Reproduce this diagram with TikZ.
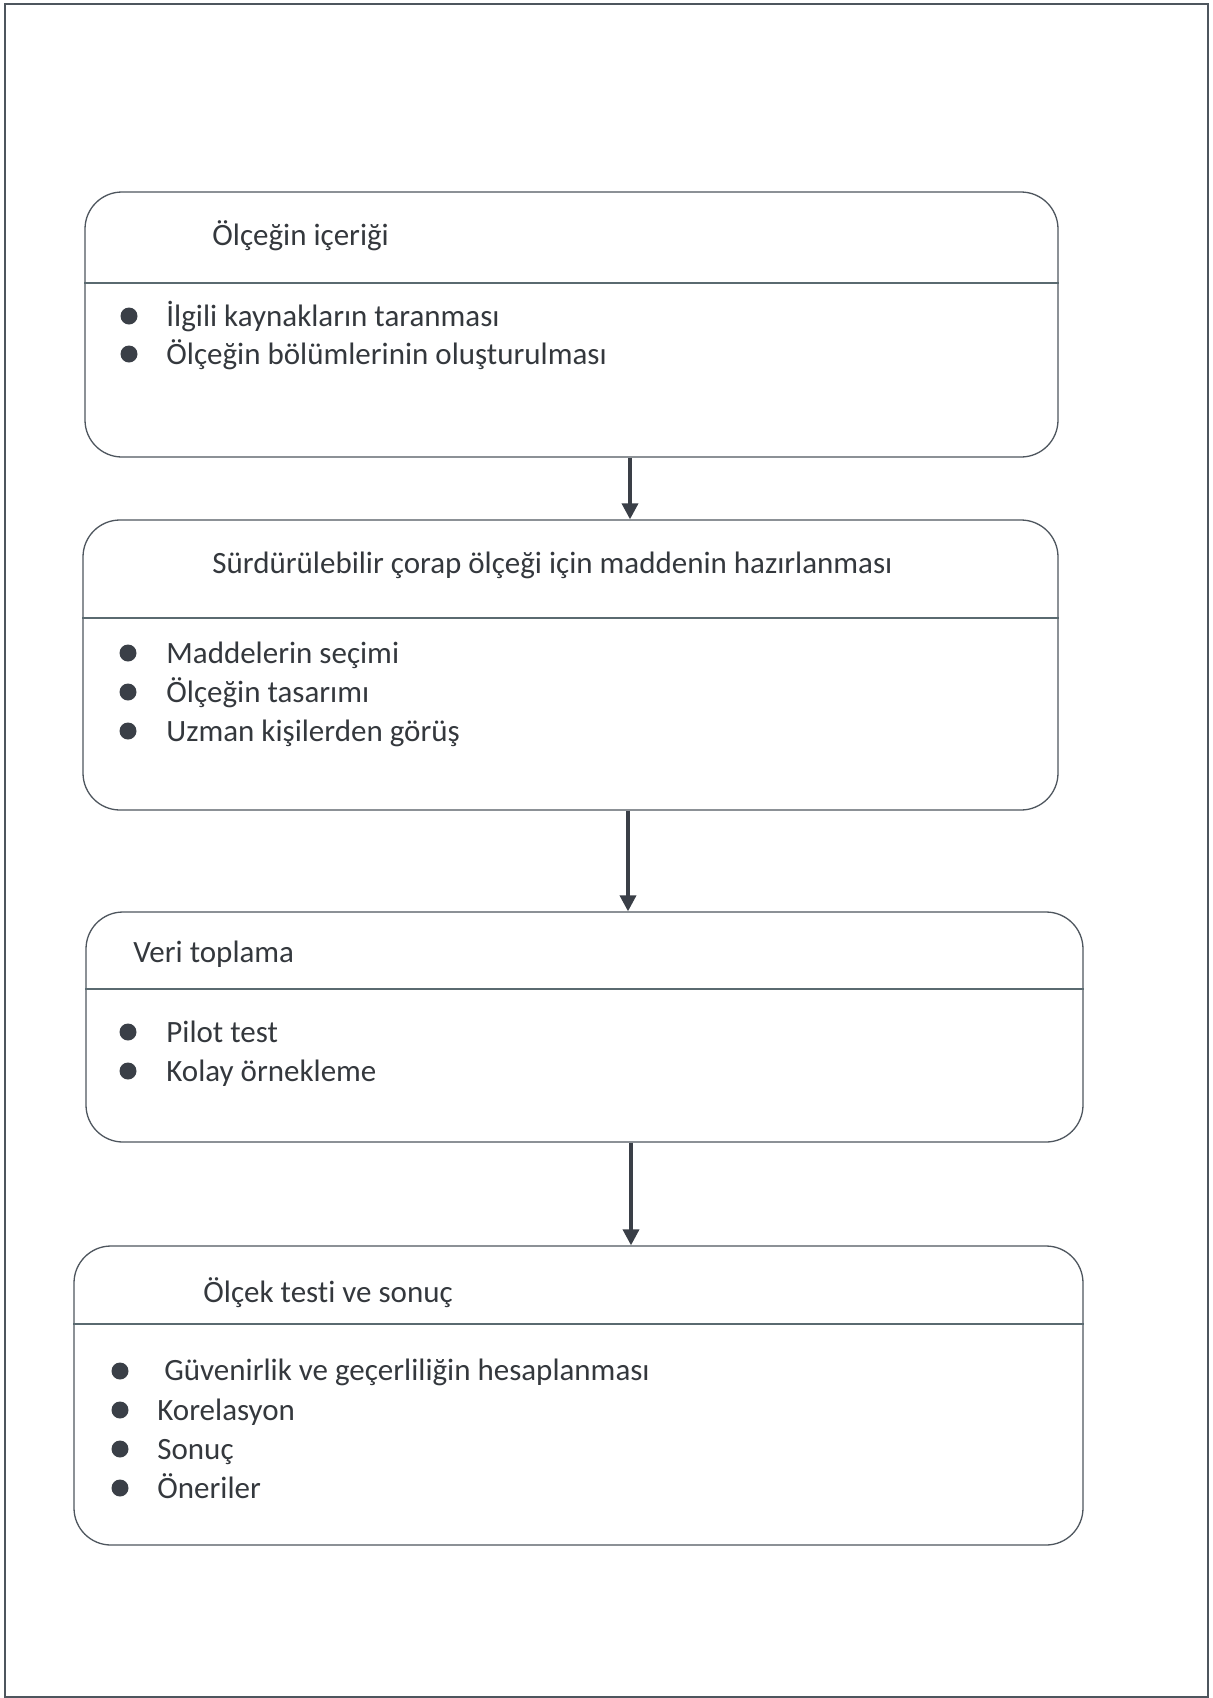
\documentclass[tikz,border=0pt]{standalone}
\usepackage{fontspec}
\setmainfont{Carlito}[Ligatures=NoCommon]
\usetikzlibrary{arrows.meta}
\definecolor{txt}{HTML}{34383D}
\definecolor{ln}{HTML}{4E565E}
\definecolor{dv}{HTML}{5A6A70}
\definecolor{blt}{HTML}{3A3F47}
\tikzset{
  boxst/.style={draw=ln, line width=0.65pt, rounded corners=18.5pt, inner sep=0pt},
  divst/.style={draw=dv, line width=0.65pt},
  titlest/.style={anchor=base west, inner sep=0pt, text=txt, font=\fontsize{15.5pt}{19pt}\selectfont},
  itemst/.style={anchor=base west, inner sep=0pt, text=txt, font=\fontsize{15.5pt}{19pt}\selectfont},
  bulletst/.style={circle, fill=blt, inner sep=0pt, minimum size=8.5pt},
  arrst/.style={draw=blt, line width=1.8pt, -{Triangle[width=8pt,length=8pt]}},
  framest/.style={draw=ln, line width=1pt}
}
\begin{document}
\begin{tikzpicture}[x=0.5pt, y=-0.5pt]
\useasboundingbox (0,0) rectangle (1213,1698);
\draw[framest] (4.5,3.5) rectangle (1208,1697);

% boxes
\node[boxst, minimum width=486.5pt, minimum height=132.5pt] (b1) at (571.5,324.5) {};
\node[boxst, minimum width=487.5pt, minimum height=145pt] (b2) at (570.5,665) {};
\node[boxst, minimum width=498.5pt, minimum height=115pt] (b3) at (584.5,1027) {};
\node[boxst, minimum width=504.5pt, minimum height=149.5pt] (b4) at (578.5,1395.5) {};

% dividers
\draw[divst] (b1.west |- 0,283) -- (b1.east |- 0,283);
\draw[divst] (b2.west |- 0,618) -- (b2.east |- 0,618);
\draw[divst] (b3.west |- 0,989) -- (b3.east |- 0,989);
\draw[divst] (b4.west |- 0,1324) -- (b4.east |- 0,1324);

% box 1
\node[titlest] (t1) at (212,245) {Ölçeğin içeriği};
\node[bulletst] (p11) at (129,316) {};
\node[itemst] (i11) at (166,326) {İlgili kaynakların taranması};
\node[bulletst] (p12) at (129,354) {};
\node[itemst] (i12) at (166,364) {Ölçeğin bölümlerinin oluşturulması};

% box 2
\node[titlest] (t2) at (212,573) {Sürdürülebilir çorap ölçeği için maddenin hazırlanması};
\node[bulletst] (p21) at (128,653) {};
\node[itemst] (i21) at (166,663) {Maddelerin seçimi};
\node[bulletst] (p22) at (128,692) {};
\node[itemst] (i22) at (166,702) {Ölçeğin tasarımı};
\node[bulletst] (p23) at (128,731) {};
\node[itemst] (i23) at (166,741) {Uzman kişilerden görüş};

% box 3
\node[titlest] (t3) at (133,962) {Veri toplama};
\node[bulletst] (p31) at (128,1032) {};
\node[itemst] (i31) at (166,1042) {Pilot test};
\node[bulletst] (p32) at (128,1071) {};
\node[itemst] (i32) at (166,1081) {Kolay örnekleme};

% box 4
\node[titlest] (t4) at (203,1302) {Ölçek testi ve sonuç};
\node[bulletst] (p41) at (120,1371) {};
\node[itemst] (i41) at (164,1380) {Güvenirlik ve geçerliliğin hesaplanması};
\node[bulletst] (p42) at (120,1410) {};
\node[itemst] (i42) at (157,1420) {Korelasyon};
\node[bulletst] (p43) at (120,1449) {};
\node[itemst] (i43) at (157,1459) {Sonuç};
\node[bulletst] (p44) at (120,1488) {};
\node[itemst] (i44) at (157,1498) {Öneriler};

% arrows
\coordinate (ax1) at (630,0);
\coordinate (ax2) at (628,0);
\coordinate (ax3) at (631,0);
\draw[arrst] (b1.south -| ax1) -- (b2.north -| ax1);
\draw[arrst] (b2.south -| ax2) -- (b3.north -| ax2);
\draw[arrst] (b3.south -| ax3) -- (b4.north -| ax3);
\end{tikzpicture}
\end{document}
